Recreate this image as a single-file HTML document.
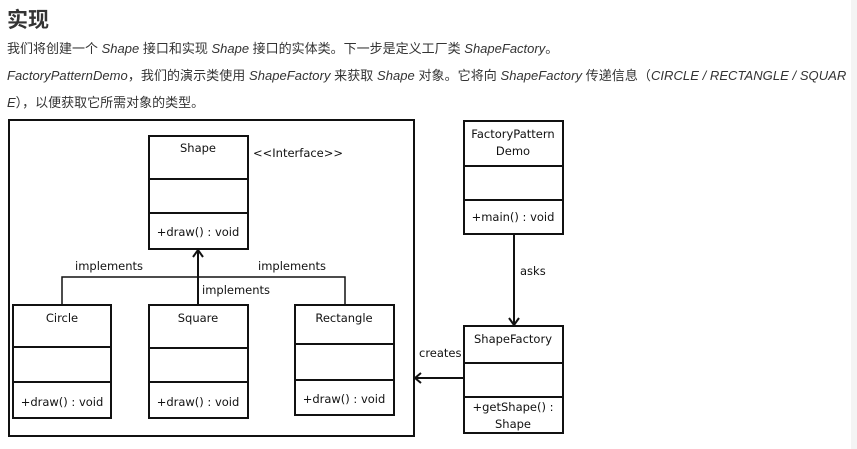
<!DOCTYPE html>
<html><head><meta charset="utf-8"><style>
html,body{margin:0;padding:0;background:#fff;width:857px;height:449px;overflow:hidden;}
.t{position:absolute;left:7px;font-family:"Liberation Sans","Noto Sans CJK SC",sans-serif;color:#333;white-space:nowrap;}
i{font-style:italic;}
</style></head><body>
<div style="position:absolute;right:0;top:0;width:6px;height:449px;background:#f4f4f4;"></div>
<div class="t" style="top:4px;font-size:21px;font-weight:bold;color:#333;">实现</div>
<div class="t" style="top:38px;font-size:13px;">我们将创建一个 <i>Shape</i> 接口和实现 <i>Shape</i> 接口的实体类。下一步是定义工厂类 <i>ShapeFactory</i>。</div>
<div class="t" style="top:65px;font-size:13px;letter-spacing:0.05px;"><i>FactoryPatternDemo</i>，我们的演示类使用 <i>ShapeFactory</i> 来获取 <i>Shape</i> 对象。它将向 <i>ShapeFactory</i> 传递信息（<i>CIRCLE / RECTANGLE / SQUAR</i></div>
<div class="t" style="top:92px;font-size:13px;"><i>E</i>），以便获取它所需对象的类型。</div>
<svg style="position:absolute;left:0;top:0" width="857" height="449" font-family="'DejaVu Sans','Liberation Sans',sans-serif" font-size="11.5" fill="#111">
<g stroke="#111" stroke-width="2" fill="none">
<rect x="9" y="120" width="405" height="316"/>
<rect x="149" y="136" width="99" height="113"/><line x1="149" y1="179" x2="248" y2="179"/><line x1="149" y1="213" x2="248" y2="213"/>
<rect x="13" y="305" width="98" height="113"/><line x1="13" y1="347" x2="111" y2="347"/><line x1="13" y1="382" x2="111" y2="382"/>
<rect x="149" y="305" width="99" height="113"/><line x1="149" y1="348" x2="248" y2="348"/><line x1="149" y1="382" x2="248" y2="382"/>
<rect x="295" y="305" width="99" height="110"/><line x1="295" y1="344" x2="394" y2="344"/><line x1="295" y1="380" x2="394" y2="380"/>
<rect x="464" y="121" width="99" height="113"/><line x1="464" y1="166" x2="563" y2="166"/><line x1="464" y1="200" x2="563" y2="200"/>
<rect x="464" y="326" width="99" height="107"/><line x1="464" y1="363" x2="563" y2="363"/><line x1="464" y1="397" x2="563" y2="397"/>
<polyline points="62,305 62,277 345,277 345,305" stroke-width="1.5"/>
<line x1="198" y1="305" x2="198" y2="250"/>
<polyline points="193,257 198,250 203,257"/>
<line x1="514" y1="234" x2="514" y2="325"/>
<polyline points="509,318 514,325 519,318"/>
<line x1="464" y1="378" x2="415" y2="378"/>
<polyline points="421,373 415,378 421,383"/>
</g>
<g text-anchor="middle">
<text x="198" y="152">Shape</text>
<text x="198" y="236">+draw() : void</text>
<text x="62" y="322">Circle</text>
<text x="62" y="406">+draw() : void</text>
<text x="198" y="322">Square</text>
<text x="198" y="406">+draw() : void</text>
<text x="344" y="322">Rectangle</text>
<text x="344" y="403">+draw() : void</text>
<text x="513" y="138">FactoryPattern</text>
<text x="513" y="155">Demo</text>
<text x="513" y="221">+main() : void</text>
<text x="513" y="343">ShapeFactory</text>
<text x="513" y="411">+getShape() :</text>
<text x="513" y="428">Shape</text>
</g>
<text x="253" y="157">&lt;&lt;Interface&gt;&gt;</text>
<text x="75" y="270">implements</text>
<text x="258" y="270">implements</text>
<text x="202" y="294">implements</text>
<text x="520" y="275">asks</text>
<text x="419" y="357">creates</text>
</svg>
</body></html>
